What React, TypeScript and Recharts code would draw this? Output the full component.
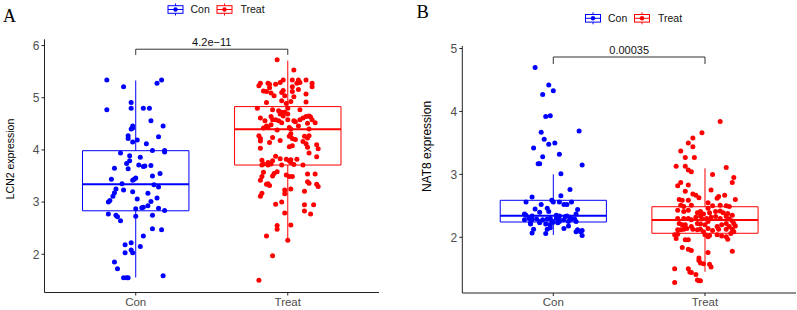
import React from 'react';
import { ScatterChart, Scatter, XAxis, YAxis, ReferenceArea, ReferenceLine } from 'recharts';

const groups = ['Con', 'Treat'];
const lcn2Ticks = [2, 3, 4, 5, 6];
const nat8Ticks = [2, 3, 4, 5];
const lcn2Title = 'LCN2 expression';
const nat8Title = 'NAT8 expression';
const lcn2P = '4.2e\u221211';
const nat8P = '0.00035';

// [horizontal jitter (category units), expression value]
const lcn2Con: [number, number][] = [
  [-0.19, 5.34], [-0.08, 5.21], [0.14, 5.28], [0.17, 5.34], [-0.03, 4.91], [-0.19, 4.77], [-0.03, 4.8], [0.05, 4.8],
  [0.09, 4.8], [0.1, 4.56], [0.18, 4.46], [-0.02, 4.46], [-0.03, 4.4], [-0.02, 4.42], [-0.05, 4.27], [-0.05, 4.22],
  [0.01, 4.19], [-0.02, 4.15], [0.07, 4.12], [0.15, 4.25], [0.11, 3.99], [0.19, 3.99], [0.19, 3.96], [-0.1, 3.94],
  [-0.04, 3.89], [0.03, 3.86], [-0.04, 3.79], [-0.06, 3.74], [0.02, 3.71], [0.06, 3.69], [0.05, 3.68], [0.1, 3.7],
  [-0.14, 3.65], [-0.05, 3.64], [0.16, 3.55], [0.11, 3.5], [-0.16, 3.44], [-0.02, 3.42], [-0.01, 3.44], [0.0, 3.46],
  [-0.09, 3.35], [0.12, 3.33], [0.15, 3.29], [-0.13, 3.25], [-0.08, 3.23], [-0.14, 3.18], [-0.02, 3.2], [0.08, 3.17],
  [-0.15, 3.11], [-0.17, 3.03], [-0.18, 3.0], [0.01, 3.06], [0.14, 3.08], [0.1, 3.01], [0.08, 2.93], [0.05, 2.9],
  [0.04, 2.89], [0.15, 2.88], [0.19, 2.84], [0.0, 2.87], [-0.18, 2.77], [-0.13, 2.75], [-0.12, 2.72], [-0.1, 2.64],
  [0.0, 2.73], [0.11, 2.75], [0.11, 2.49], [0.17, 2.47], [0.05, 2.35], [0.03, 2.15], [-0.03, 2.22], [-0.07, 2.18],
  [-0.03, 2.08], [-0.02, 2.03], [-0.07, 2.03], [-0.14, 1.85], [-0.12, 1.72], [-0.08, 1.55], [-0.06, 1.55], [-0.05, 1.55],
  [0.18, 1.59],
];

const lcn2Treat: [number, number][] = [
  [-0.07, 5.73], [0.04, 5.53], [-0.03, 5.34], [0.03, 5.34], [0.07, 5.34], [0.12, 5.34], [0.08, 5.29], [-0.18, 5.28],
  [-0.13, 5.28], [-0.12, 5.26], [-0.19, 5.23], [0.16, 5.28], [0.16, 5.21], [-0.05, 5.29], [-0.08, 5.26], [0.06, 5.28],
  [-0.12, 5.19], [-0.16, 5.13], [-0.14, 5.12], [-0.11, 5.09], [-0.03, 5.14], [-0.04, 5.1], [0.03, 5.21], [0.03, 5.12],
  [0.07, 5.16], [0.12, 5.07], [-0.09, 5.04], [-0.02, 5.04], [0.04, 5.02], [-0.04, 4.94], [0.02, 4.93], [-0.14, 4.91],
  [0.12, 4.92], [-0.01, 4.89], [-0.2, 4.8], [-0.1, 4.77], [-0.06, 4.75], [-0.04, 4.72], [-0.02, 4.72], [0.0, 4.8],
  [0.08, 4.77], [-0.05, 4.69], [-0.03, 4.65], [0.0, 4.69], [-0.18, 4.61], [-0.11, 4.64], [-0.1, 4.58], [-0.08, 4.58],
  [-0.15, 4.56], [-0.06, 4.56], [-0.04, 4.52], [0.0, 4.58], [0.04, 4.56], [0.05, 4.54], [0.08, 4.58], [0.1, 4.61],
  [0.12, 4.64], [0.14, 4.65], [0.15, 4.63], [0.16, 4.58], [0.18, 4.52], [0.13, 4.51], [-0.16, 4.42], [-0.14, 4.46],
  [-0.13, 4.43], [-0.11, 4.48], [-0.07, 4.38], [0.01, 4.43], [0.02, 4.4], [0.07, 4.46], [0.14, 4.4], [-0.19, 4.27],
  [-0.18, 4.22], [-0.1, 4.24], [0.02, 4.31], [0.01, 4.26], [0.03, 4.22], [0.05, 4.2], [0.11, 4.26], [0.13, 4.23],
  [0.14, 4.27], [-0.12, 4.14], [-0.18, 4.17], [-0.05, 4.18], [0.1, 4.16], [0.12, 4.12], [0.19, 4.1], [0.2, 4.02],
  [0.01, 4.06], [0.03, 4.08], [-0.18, 4.03], [0.13, 4.05], [0.14, 3.94], [0.19, 3.87], [-0.08, 3.88], [-0.05, 3.83],
  [-0.01, 3.82], [0.01, 3.79], [0.02, 3.81], [0.06, 3.82], [-0.17, 3.8], [-0.16, 3.73], [-0.13, 3.76], [-0.1, 3.79],
  [-0.17, 3.71], [-0.13, 3.71], [-0.11, 3.73], [-0.04, 3.71], [0.02, 3.76], [0.04, 3.72], [0.1, 3.71], [-0.16, 3.57],
  [-0.09, 3.55], [-0.07, 3.58], [-0.01, 3.52], [0.01, 3.49], [0.03, 3.49], [0.13, 3.54], [0.18, 3.54], [-0.17, 3.49],
  [-0.18, 3.42], [-0.1, 3.5], [-0.13, 3.35], [-0.12, 3.32], [-0.14, 3.34], [0.19, 3.34], [0.2, 3.3], [0.13, 3.39],
  [0.14, 3.36], [0.02, 3.25], [-0.02, 3.23], [-0.02, 3.16], [-0.17, 3.17], [-0.18, 3.11], [0.11, 3.21], [-0.08, 2.96],
  [-0.04, 3.0], [0.11, 2.95], [0.17, 2.95], [0.11, 2.83], [0.15, 2.77], [-0.02, 2.79], [-0.07, 2.55], [-0.07, 2.48],
  [0.02, 2.56], [-0.14, 2.35], [0.0, 2.27], [-0.1, 1.97], [-0.19, 1.5],
];

const nat8Con: [number, number][] = [
  [-0.12, 4.7], [-0.03, 4.42], [0.0, 4.33], [-0.07, 4.27], [-0.05, 3.92], [-0.02, 3.93], [-0.08, 3.67], [0.17, 3.69],
  [-0.06, 3.56], [-0.03, 3.48], [0.01, 3.5], [-0.13, 3.42], [0.04, 3.32], [-0.07, 3.28], [-0.1, 3.17], [-0.09, 3.17],
  [0.19, 3.15], [0.05, 3.01], [0.11, 2.76], [-0.14, 2.64], [0.05, 2.66], [-0.01, 2.59], [0.0, 2.56], [-0.18, 2.56],
  [0.12, 2.56], [-0.08, 2.52], [0.04, 2.56], [0.07, 2.52], [0.09, 2.52], [-0.04, 2.46], [-0.12, 2.45], [0.16, 2.44],
  [-0.09, 2.4], [-0.03, 2.41], [-0.19, 2.37], [-0.18, 2.35], [-0.14, 2.34], [0.02, 2.35], [0.04, 2.34], [0.09, 2.34],
  [0.11, 2.32], [0.15, 2.37], [-0.16, 2.3], [-0.14, 2.28], [-0.11, 2.29], [-0.09, 2.25], [-0.07, 2.28], [-0.04, 2.29],
  [-0.02, 2.3], [-0.01, 2.26], [0.02, 2.3], [0.04, 2.28], [0.07, 2.28], [0.11, 2.28], [0.13, 2.29], [0.15, 2.25],
  [-0.19, 2.28], [-0.15, 2.21], [-0.09, 2.23], [-0.05, 2.21], [-0.02, 2.2], [0.0, 2.24], [0.03, 2.23], [0.04, 2.25],
  [0.08, 2.33], [0.1, 2.25], [0.14, 2.29], [-0.15, 2.23], [-0.02, 2.15], [-0.04, 2.13], [-0.13, 2.13], [0.07, 2.14],
  [0.1, 2.18], [0.16, 2.12], [0.18, 2.09], [0.19, 2.11], [0.15, 2.09], [-0.14, 2.07], [-0.05, 2.06], [0.19, 2.03],
];

const nat8Treat: [number, number][] = [
  [0.1, 3.84], [-0.02, 3.66], [-0.08, 3.58], [-0.11, 3.5], [-0.08, 3.44], [-0.16, 3.37], [-0.13, 3.27], [-0.07, 3.27],
  [-0.19, 3.13], [-0.13, 3.13], [-0.11, 3.07], [-0.09, 3.04], [0.14, 3.11], [0.05, 3.0], [0.19, 2.95], [0.18, 2.87],
  [-0.16, 2.87], [-0.18, 2.82], [-0.11, 2.83], [0.04, 2.75], [-0.13, 2.73], [-0.08, 2.69], [-0.06, 2.67], [-0.04, 2.63],
  [0.09, 2.65], [0.08, 2.62], [0.13, 2.67], [0.2, 2.6], [-0.17, 2.6], [-0.15, 2.59], [-0.11, 2.59], [-0.16, 2.51],
  [-0.14, 2.49], [-0.09, 2.51], [0.02, 2.55], [0.02, 2.46], [0.05, 2.5], [0.1, 2.51], [0.14, 2.5], [0.16, 2.49],
  [-0.18, 2.43], [-0.14, 2.41], [-0.11, 2.43], [-0.05, 2.39], [-0.03, 2.41], [-0.01, 2.37], [0.03, 2.39], [0.07, 2.41],
  [0.1, 2.42], [0.12, 2.39], [0.15, 2.38], [0.18, 2.35], [-0.18, 2.3], [-0.14, 2.3], [-0.11, 2.3], [-0.09, 2.28],
  [-0.06, 2.32], [-0.03, 2.34], [-0.02, 2.29], [0.01, 2.3], [0.04, 2.32], [0.07, 2.33], [0.1, 2.3], [0.14, 2.33],
  [0.16, 2.29], [0.18, 2.26], [-0.17, 2.22], [-0.15, 2.2], [-0.13, 2.2], [-0.09, 2.17], [-0.05, 2.22], [-0.03, 2.21],
  [0.0, 2.2], [0.02, 2.25], [0.08, 2.17], [0.11, 2.2], [0.14, 2.22], [0.19, 2.22], [0.2, 2.18], [0.16, 2.17],
  [-0.18, 2.12], [-0.16, 2.12], [-0.14, 2.13], [-0.12, 2.14], [-0.08, 2.13], [-0.05, 2.12], [-0.03, 2.13], [-0.01, 2.09],
  [0.02, 2.14], [0.05, 2.11], [0.09, 2.13], [0.14, 2.13], [0.18, 2.13], [0.19, 2.09], [-0.2, 2.04], [-0.19, 1.98],
  [-0.18, 2.05], [-0.13, 1.96], [-0.11, 1.96], [0.0, 2.04], [0.02, 2.01], [0.03, 2.03], [0.08, 2.04], [0.11, 2.02],
  [0.14, 2.01], [0.15, 1.97], [0.17, 2.06], [-0.15, 1.84], [-0.11, 1.81], [-0.09, 1.79], [0.18, 1.78], [0.02, 1.76],
  [-0.04, 1.67], [-0.03, 1.59], [-0.04, 1.63], [-0.01, 1.58], [0.03, 1.57], [0.04, 1.53], [-0.2, 1.5], [-0.11, 1.5],
  [-0.1, 1.45], [-0.09, 1.44], [-0.06, 1.41], [-0.05, 1.32], [-0.04, 1.31], [-0.03, 1.31], [-0.2, 1.28],
];

// [lower whisker, Q1, median, Q3, upper whisker]
const lcn2ConBox = [1.555, 2.833, 3.34, 3.985, 5.33];
const lcn2TreatBox = [2.27, 3.71, 4.395, 4.83, 5.71];
const nat8ConBox = [2.037, 2.243, 2.343, 2.588, 3.001];
const nat8TreatBox = [1.453, 2.064, 2.275, 2.486, 3.096];
// [bracket line, bracket leg end]
const lcn2Bracket = [5.93, 5.82];
const nat8Bracket = [4.865, 4.754];

const BLUE = '#0000FF';
const RED = '#FF0000';
const SANS = '"Liberation Sans", Arial, sans-serif';
const AXIS = '#222';
const TICKTXT = '#4D4D4D';

const toPoints = (arr: [number, number][], pos: number) => arr.map(([j, v]) => ({ x: pos + j, y: v }));

const dot = (color: string) => (p: any) => <circle cx={p.cx} cy={p.cy} r={2.5} fill={color} />;

const boxElements = (key: string, pos: number, s: number[], color: string) => [
  <ReferenceArea key={key + 'b'} x1={pos - 0.35} x2={pos + 0.35} y1={s[1]} y2={s[3]} fill="none" fillOpacity={0} stroke={color} strokeWidth={1} ifOverflow="visible" />,
  <ReferenceLine key={key + 'w1'} segment={[{ x: pos, y: s[3] }, { x: pos, y: s[4] }]} stroke={color} strokeWidth={1} ifOverflow="visible" />,
  <ReferenceLine key={key + 'w2'} segment={[{ x: pos, y: s[0] }, { x: pos, y: s[1] }]} stroke={color} strokeWidth={1} ifOverflow="visible" />,
  <ReferenceLine key={key + 'm'} segment={[{ x: pos - 0.35, y: s[2] }, { x: pos + 0.35, y: s[2] }]} stroke={color} strokeWidth={2} ifOverflow="visible" />,
];

const bracketElements = (key: string, b: number[], p: string) => [
  <ReferenceLine key={key + 'h'} segment={[{ x: 1, y: b[0] }, { x: 2, y: b[0] }]} stroke="#333" strokeWidth={1} ifOverflow="visible"
    label={{ value: p, position: 'top', offset: 3, fill: '#111', fontSize: 11, fontFamily: SANS }} />,
  <ReferenceLine key={key + 'l'} segment={[{ x: 1, y: b[0] }, { x: 1, y: b[1] }]} stroke="#333" strokeWidth={1} ifOverflow="visible" />,
  <ReferenceLine key={key + 'r'} segment={[{ x: 2, y: b[0] }, { x: 2, y: b[1] }]} stroke="#333" strokeWidth={1} ifOverflow="visible" />,
];

type PanelProps = {
  width: number;
  margin: { top: number; right: number; bottom: number; left: number };
  yWidth: number;
  xHeight: number;
  domain: [number, number];
  ticks: number[];
  con: [number, number][];
  treat: [number, number][];
  conBox: number[];
  treatBox: number[];
  bracket: number[];
  p: string;
  id: string;
};

function Panel(props: PanelProps) {
  const { width, margin, yWidth, xHeight, domain, ticks, con, treat, conBox, treatBox, bracket, p, id } = props;
  return (
    <ScatterChart width={width} height={310} margin={margin}>
      <XAxis
        type="number"
        dataKey="x"
        domain={[0.4, 2.6]}
        ticks={[1, 2]}
        allowDataOverflow
        height={xHeight}
        tickFormatter={(v: number) => groups[Math.round(v) - 1]}
        tickSize={3}
        tickMargin={2}
        axisLine={{ stroke: AXIS, strokeWidth: 1 }}
        tickLine={{ stroke: AXIS }}
        tick={{ fill: TICKTXT, fontSize: 11.5, fontFamily: SANS }}
      />
      <YAxis
        type="number"
        dataKey="y"
        domain={domain}
        ticks={ticks}
        allowDataOverflow
        width={yWidth}
        tickSize={3}
        tickMargin={2}
        axisLine={{ stroke: AXIS, strokeWidth: 1 }}
        tickLine={{ stroke: AXIS }}
        tick={{ fill: TICKTXT, fontSize: 12, fontFamily: SANS }}
      />
      {boxElements(id + 'c', 1, conBox, BLUE)}
      {boxElements(id + 't', 2, treatBox, RED)}
      {bracketElements(id + 'br', bracket, p)}
      <Scatter data={toPoints(con, 1)} isAnimationActive={false} shape={dot(BLUE)} />
      <Scatter data={toPoints(treat, 2)} isAnimationActive={false} shape={dot(RED)} />
    </ScatterChart>
  );
}

function LegendIcon({ x, cy, color }: { x: number; cy: number; color: string }) {
  return (
    <g>
      <line x1={x + 7.5} x2={x + 7.5} y1={cy - 6} y2={cy + 6} stroke={color} strokeWidth={1} />
      <rect x={x} y={cy - 3.8} width={15} height={7.6} fill="#fff" stroke={color} strokeWidth={1} />
      <line x1={x} x2={x + 15} y1={cy} y2={cy} stroke={color} strokeWidth={1} />
      <circle cx={x + 7.5} cy={cy} r={2.2} fill={color} />
    </g>
  );
}

function Legend({ x, cy }: { x: number; cy: number }) {
  return (
    <g fontFamily={SANS} fontSize={10.5} fill="#111">
      <LegendIcon x={x} cy={cy} color={BLUE} />
      <text x={x + 22.5} y={cy + 3.8}>{groups[0]}</text>
      <LegendIcon x={x + 49} cy={cy} color={RED} />
      <text x={x + 72.5} y={cy + 3.8}>{groups[1]}</text>
    </g>
  );
}

export default function App() {
  return (
    <div style={{ position: 'absolute', left: 0, top: 0, width: 797, height: 310, background: '#fff', overflow: 'hidden' }}>
      <div style={{ position: 'absolute', left: 0, top: 0 }}>
        <Panel
          id="a"
          width={400}
          margin={{ top: 39.3, right: 21, bottom: 0, left: 0 }}
          yWidth={44.5}
          xHeight={17.5}
          domain={[1.267, 6.12]}
          ticks={lcn2Ticks}
          con={lcn2Con}
          treat={lcn2Treat}
          conBox={lcn2ConBox}
          treatBox={lcn2TreatBox}
          bracket={lcn2Bracket}
          p={lcn2P}
        />
      </div>
      <div style={{ position: 'absolute', left: 400, top: 0 }}>
        <Panel
          id="b"
          width={397}
          margin={{ top: 46, right: 1, bottom: 0, left: 0 }}
          yWidth={62.3}
          xHeight={17}
          domain={[1.115, 5.04]}
          ticks={nat8Ticks}
          con={nat8Con}
          treat={nat8Treat}
          conBox={nat8ConBox}
          treatBox={nat8TreatBox}
          bracket={nat8Bracket}
          p={nat8P}
        />
      </div>
      <svg width={797} height={310} style={{ position: 'absolute', left: 0, top: 0, pointerEvents: 'none' }}>
        <text x={3} y={21.7} fontFamily='"Liberation Serif", "Times New Roman", serif' fontSize={18} fill="#000">A</text>
        <text x={416.5} y={18.3} fontFamily='"Liberation Serif", "Times New Roman", serif' fontSize={18.5} fill="#000">B</text>
        <Legend x={168} cy={9.5} />
        <Legend x={585.5} cy={18.3} />
        <text transform="translate(13.5,159) rotate(-90)" textAnchor="middle" fontFamily={SANS} fontSize={10.5} fill="#000">{lcn2Title}</text>
        <text transform="translate(430.5,146.5) rotate(-90)" textAnchor="middle" fontFamily={SANS} fontSize={12} fill="#000">{nat8Title}</text>
      </svg>
    </div>
  );
}
